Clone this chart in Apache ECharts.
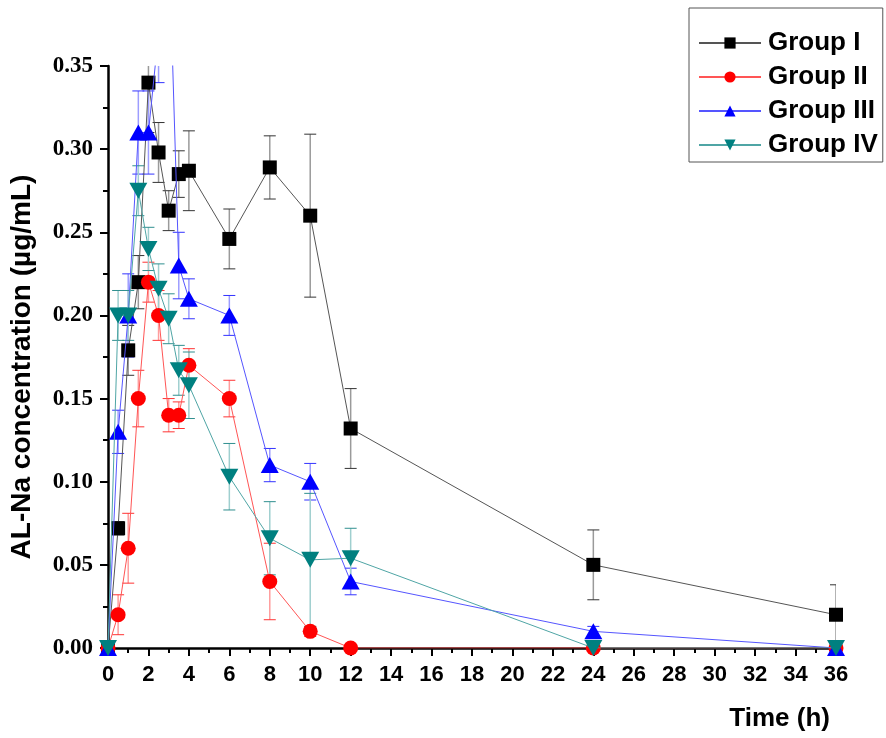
<!DOCTYPE html>
<html>
<head>
<meta charset="utf-8">
<script src="https://cdn.jsdelivr.net/npm/echarts@6/dist/echarts.min.js"></script>
<style>html,body{margin:0;padding:0;background:#fff}#c{width:886px;height:738px}</style>
</head>
<body>
<div id="c"></div>
<script>
var times = [0, 0.5, 1, 1.5, 2, 2.5, 3, 3.5, 4, 6, 8, 10, 12, 24, 36];
var groupNames = ['Group I', 'Group II', 'Group III', 'Group IV'];
var g1 = [0, 0.072, 0.179, 0.22, 0.34, 0.298, 0.263, 0.285, 0.287, 0.246, 0.289, 0.26, 0.132, 0.05, 0.02];
var g1e = [0, 0.004, 0.015, 0.016, 0.03, 0.018, 0.012, 0.014, 0.024, 0.018, 0.019, 0.049, 0.024, 0.021, 0.018];
var g2 = [0, 0.02, 0.06, 0.15, 0.22, 0.20, 0.14, 0.14, 0.17, 0.15, 0.04, 0.01, 0, 0, 0];
var g2e = [0, 0.012, 0.021, 0.017, 0.012, 0.015, 0.01, 0.008, 0.01, 0.011, 0.023, 0.003, 0, 0, 0];
var g3 = [0, 0.13, 0.20, 0.31, 0.31, 0.37, 0.43, 0.23, 0.21, 0.20, 0.11, 0.10, 0.04, 0.01, 0];
var g3e = [0, 0.013, 0.025, 0.025, 0.025, 0.03, 0.03, 0.02, 0.012, 0.012, 0.01, 0.011, 0.008, 0.003, 0];
var g4 = [0, 0.20, 0.20, 0.275, 0.24, 0.216, 0.198, 0.167, 0.158, 0.103, 0.066, 0.053, 0.054, 0, 0];
var g4e = [0, 0.015, 0.015, 0.015, 0.013, 0.015, 0.015, 0.015, 0.02, 0.02, 0.022, 0.04, 0.018, 0, 0];
var xTicks = [0, 36, 2];
var yTicks = [0, 0.35, 0.05];

var means = [g1, g2, g3, g4];
var errs = [g1e, g2e, g3e, g4e];
var markerColors = ['#000000', '#ff0000', '#0000ff', '#008080'];
var lineColors = ['#555555', '#ff5555', '#5555ff', '#4fa5a5'];
var stemColors = ['#9a9a9a', '#ff9d9d', '#9d9dff', '#9fcfcf'];
var capColors = ['#333333', '#ff3333', '#3333ff', '#2f8f8f'];
var symbols = ['rect', 'circle', 'triangle', 'path://M0,0 L10,0 L5,9 Z'];
var symSizes = [14, 15, [18, 16], [18, 16]];

var series = [];
means.forEach(function (m, gi) {
  var ed = [];
  times.forEach(function (t, i) {
    if (errs[gi][i] > 0) ed.push([t, m[i] - errs[gi][i], m[i] + errs[gi][i]]);
  });
  series.push({
    type: 'custom',
    name: groupNames[gi] + ' err',
    z: 2,
    clip: true,
    encode: { x: 0, y: [1, 2] },
    data: ed,
    renderItem: function (params, api) {
      var x = api.value(0), lo = api.value(1), hi = api.value(2);
      var p1 = api.coord([x, lo]), p2 = api.coord([x, hi]);
      var w = 6;
      return {
        type: 'group',
        children: [
          { type: 'line', shape: { x1: p1[0], y1: p1[1], x2: p2[0], y2: p2[1] }, style: { stroke: stemColors[gi], lineWidth: 1.5 } },
          { type: 'line', shape: { x1: p1[0] - w, y1: p1[1], x2: p1[0] + w, y2: p1[1] }, style: { stroke: capColors[gi], lineWidth: 1 } },
          { type: 'line', shape: { x1: p2[0] - w, y1: p2[1], x2: p2[0] + w, y2: p2[1] }, style: { stroke: capColors[gi], lineWidth: 1 } }
        ]
      };
    }
  });
});
means.forEach(function (m, gi) {
  series.push({
    type: 'line',
    name: groupNames[gi],
    z: 3 + gi,
    data: times.map(function (t, i) { return [t, m[i]]; }),
    symbol: symbols[gi],
    symbolSize: symSizes[gi],
    showAllSymbol: true,
    clip: true,
    lineStyle: { color: lineColors[gi], width: 1 },
    itemStyle: { color: markerColors[gi], borderWidth: 0 },
    emphasis: { disabled: true },
    animation: false
  });
});

var chart = echarts.init(document.getElementById('c'));
chart.setOption({
  animation: false,
  backgroundColor: '#fff',
  grid: { left: 108, right: 50, top: 66, bottom: 90, containLabel: false, outerBoundsMode: 'none' },
  legend: {
    data: groupNames,
    orient: 'vertical',
    left: 689,
    top: 8,
    padding: [22, 5, 4, 9],
    itemWidth: 62,
    itemHeight: 14,
    itemGap: 8,
    borderColor: '#555',
    borderWidth: 1,
    textStyle: { fontFamily: 'Liberation Sans, Arial, sans-serif', fontWeight: 'bold', fontSize: 26, color: '#000', padding: [0, 0, 0, 2] }
  },
  xAxis: {
    type: 'value',
    min: xTicks[0], max: xTicks[1], interval: xTicks[2],
    name: 'Time (h)',
    nameLocation: 'end',
    nameGap: -6,
    nameTextStyle: { fontFamily: 'Liberation Sans, Arial, sans-serif', fontWeight: 'bold', fontSize: 26, color: '#000', align: 'right', verticalAlign: 'top', padding: [58, 0, 0, 0] },
    axisLine: { lineStyle: { color: '#000', width: 2.5 } },
    axisTick: { inside: false, length: 8, lineStyle: { color: '#000', width: 2 } },
    minorTick: { show: true, splitNumber: 2, length: 5, lineStyle: { color: '#000', width: 2 } },
    axisLabel: { margin: 16, fontFamily: 'Liberation Sans Narrow, Arial Narrow, Liberation Sans, Arial, sans-serif', fontWeight: 'bold', fontSize: 22, color: '#000' },
    splitLine: { show: false }
  },
  yAxis: {
    type: 'value',
    min: yTicks[0], max: yTicks[1], interval: yTicks[2],
    name: 'AL-Na concentration (µg/mL)',
    nameLocation: 'middle',
    nameGap: 72,
    nameTextStyle: { fontFamily: 'Liberation Sans, Arial, sans-serif', fontWeight: 'bold', fontSize: 28, color: '#000', padding: [0, 20, 0, 0] },
    axisLine: { show: true, lineStyle: { color: '#000', width: 2.5 } },
    axisTick: { show: true, inside: false, length: 8, lineStyle: { color: '#000', width: 2 } },
    minorTick: { show: true, splitNumber: 2, length: 5, lineStyle: { color: '#000', width: 2 } },
    axisLabel: { margin: 15, formatter: function (v) { return v.toFixed(2); }, fontFamily: 'Liberation Serif, Times New Roman, serif', fontWeight: 'bold', fontSize: 23, color: '#000' },
    splitLine: { show: false }
  },
  series: series
});
</script>
</body>
</html>
